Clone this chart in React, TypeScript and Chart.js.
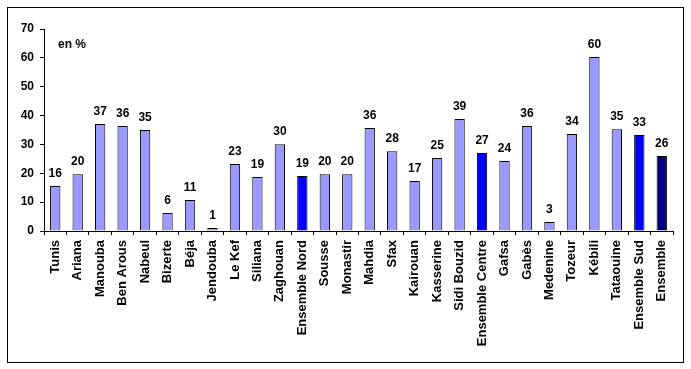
import React, { useEffect, useRef } from "react";
import { Chart, registerables } from "chart.js";

Chart.register(...registerables);

const categories = [
  "Tunis", "Ariana", "Manouba", "Ben Arous", "Nabeul", "Bizerte", "Béja", "Jendouba",
  "Le Kef", "Siliana", "Zaghouan", "Ensemble Nord", "Sousse", "Monastir", "Mahdia",
  "Sfax", "Kairouan", "Kasserine", "Sidi Bouzid", "Ensemble Centre", "Gafsa", "Gabès",
  "Medenine", "Tozeur", "Kébili", "Tataouine", "Ensemble Sud", "Ensemble",
];

const values = [
  15.6, 19.7, 37.1, 36.4, 35.0, 6.2, 10.7, 1.0,
  23.2, 18.7, 30.1, 19.1, 19.7, 19.7, 35.7,
  27.6, 17.3, 25.3, 38.8, 27.0, 24.3, 36.4,
  3.1, 33.6, 60.3, 35.3, 33.3, 26.0,
];

const valueLabels = [
  "16", "20", "37", "36", "35", "6", "11", "1",
  "23", "19", "30", "19", "20", "20", "36",
  "28", "17", "25", "39", "27", "24", "36",
  "3", "34", "60", "35", "33", "26",
];

const yMin = 0;
const yMax = 70;
const yStep = 10;
const unitText = "en %";

const FONT = '"Liberation Sans", Arial, sans-serif';

export default function App() {
  const ref = useRef<HTMLCanvasElement>(null);

  useEffect(() => {
    const colors = categories.map((c) =>
      c === "Ensemble" ? "#000080" : c.startsWith("Ensemble ") ? "#0000FF" : "#9999FF"
    );

    const labelPlugin = {
      id: "valueLabels",
      afterDatasetsDraw(chart: any) {
        const ctx = chart.ctx;
        const meta = chart.getDatasetMeta(0);
        ctx.save();
        ctx.fillStyle = "#000";
        ctx.font = `bold 12px ${FONT}`;
        ctx.textAlign = "center";
        ctx.textBaseline = "alphabetic";
        meta.data.forEach((el: any, i: number) => {
          ctx.fillText(valueLabels[i], el.x, el.y - 9);
        });
        ctx.textAlign = "left";
        ctx.fillText(unitText, 58, 48);
        ctx.restore();
      },
    };

    const framePlugin = {
      id: "frame",
      afterDraw(chart: any) {
        const ctx = chart.ctx;
        ctx.save();
        ctx.strokeStyle = "#000";
        ctx.lineWidth = 1;
        ctx.strokeRect(7.5, 7.5, 676, 355);
        ctx.restore();
      },
    };

    const chart = new Chart(ref.current!, {
      type: "bar",
      data: {
        labels: categories,
        datasets: [
          {
            data: values,
            backgroundColor: colors,
            borderColor: "#000",
            borderWidth: 1,
            barPercentage: 0.46,
            categoryPercentage: 1,
          },
        ],
      },
      options: {
        animation: false,
        responsive: false,
        devicePixelRatio: 1,
        layout: { padding: { top: 29, right: 18, bottom: 0, left: 0 } },
        plugins: { legend: { display: false }, tooltip: { enabled: false } },
        scales: {
          x: {
            grid: { display: true, drawOnChartArea: false, tickLength: 4, color: "#000", offset: true },
            border: { color: "#000" },
            ticks: {
              color: "#000",
              font: { family: FONT, size: 13, weight: "bold" },
              maxRotation: 90,
              minRotation: 90,
              padding: 5,
              autoSkip: false,
            },
            afterFit: (s: any) => {
              s.height = 138;
            },
          },
          y: {
            min: yMin,
            max: yMax,
            grid: { display: true, drawOnChartArea: false, tickLength: 4, color: "#000" },
            border: { color: "#000" },
            ticks: {
              stepSize: yStep,
              color: "#000",
              font: { family: FONT, size: 12, weight: "bold" },
              padding: 6,
            },
            afterFit: (s: any) => {
              s.width = 44;
            },
          },
        },
      },
      plugins: [labelPlugin, framePlugin],
    } as any);
    return () => chart.destroy();
  }, []);

  return (
    <div style={{ position: "absolute", left: 0, top: 0, width: 691, height: 369, background: "#fff" }}>
      <canvas ref={ref} width={691} height={369} style={{ display: "block" }} />
    </div>
  );
}
